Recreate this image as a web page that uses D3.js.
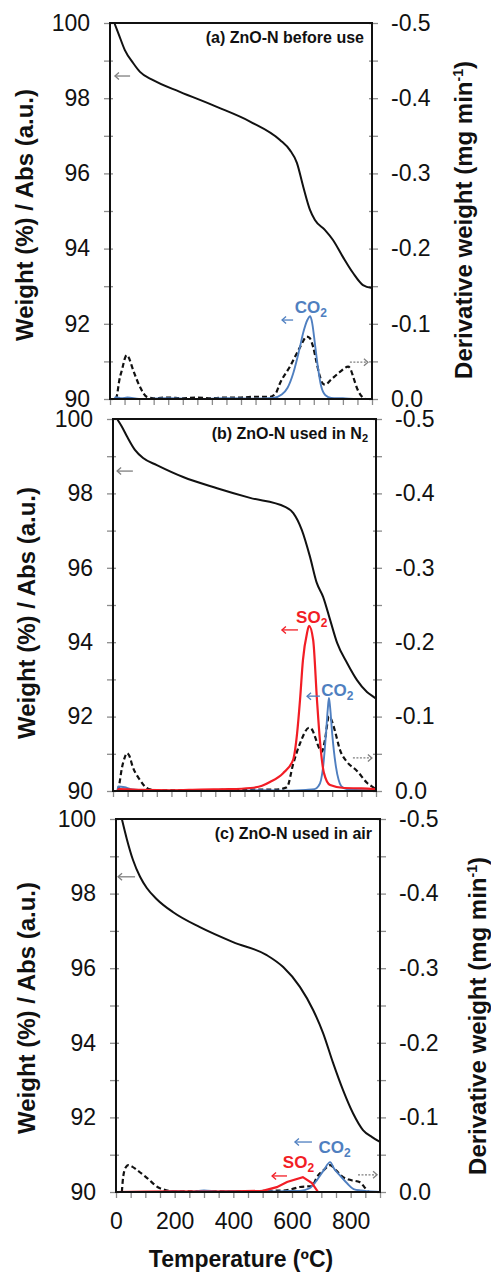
<!DOCTYPE html>
<html>
<head>
<meta charset="utf-8">
<script src="https://cdn.jsdelivr.net/npm/d3@7"></script>
<style>
html,body{margin:0;padding:0;background:#fff;}
svg{display:block;}
text{font-family:"Liberation Sans",Arial,Helvetica,sans-serif;}
</style>
</head>
<body>
<svg id="chart" width="491" height="1274"></svg>
<script>
// ---------------- DATA ----------------
const xTickLabels = [0, 200, 400, 600, 800];
const leftTickLabels = [90, 92, 94, 96, 98, 100];
const rightTickLabels = [0.0, -0.1, -0.2, -0.3, -0.4, -0.5];
const panelTitles = ["(a) ZnO-N before use", "(b) ZnO-N used in N", "(c) ZnO-N used in air"];

// Weight (%) vs temperature (°C)
const weightA = [[15,100],[30,99.7],[51,99.28],[80,98.93],[103,98.7],[148,98.48],[240,98.17],[367,97.77],[481,97.38],[584,96.89],[618,96.62],[642,96.28],[664,95.64],[687,95.03],[704,94.76],[738,94.5],[766,94.23],[800,93.78],[835,93.35],[869,93.03],[900,92.95]];
const weightB = [[14,100],[30,99.8],[48,99.53],[75,99.17],[103,98.95],[150,98.76],[240,98.44],[356,98.14],[469,97.88],[589,97.64],[617,97.47],[646,97.02],[674,96.3],[697,95.6],[719,95.22],[743,94.6],[767,93.98],[801,93.44],[835,92.98],[869,92.66],[897,92.5],[900,92.48]];
const weightC = [[20,100],[37,99.46],[58,98.9],[82,98.45],[105,98.15],[139,97.85],[195,97.5],[286,97.1],[399,96.7],[514,96.35],[570,96.03],[627,95.5],[672,94.88],[706,94.26],[740,93.46],[774,92.73],[808,92.11],[842,91.66],[873,91.47],[900,91.34]];

// CO2 absorbance (left-axis units)
const co2A = [[15,90.0],[20,90.05],[40,90.02],[60,90.04],[100,90.0],[200,90.02],[300,90.0],[400,90.02],[500,90.01],[560,90.03],[590,90.12],[610,90.3],[630,90.7],[650,91.3],[665,91.8],[678,92.1],[688,92.2],[695,92.0],[705,91.4],[715,90.8],[725,90.35],[740,90.1],[760,90.03],[800,90.02],[850,90.0],[900,90.0]];
const co2B = [[15,90.0],[18,90.12],[40,90.1],[60,90.05],[100,90.02],[200,90.0],[300,90.02],[400,90.0],[500,90.02],[600,90.01],[660,90.03],[690,90.05],[702,90.12],[712,90.3],[719,90.65],[729,91.55],[735,92.2],[739,92.5],[743,92.25],[750,91.55],[763,90.65],[772,90.3],[781,90.13],[800,90.05],[830,90.03],[900,90.02]];
const co2C = [[150,90.0],[200,90.03],[250,90.0],[300,90.04],[350,90.01],[400,90.03],[450,90.0],[500,90.03],[550,90.01],[590,90.03],[627,90.03],[660,90.1],[685,90.32],[708,90.58],[730,90.8],[744,90.62],[757,90.5],[787,90.24],[810,90.08],[835,90.04],[860,90.02],[900,90.0]];

// SO2 absorbance (left-axis units)
const so2B = [[15,90.0],[20,90.05],[100,90.03],[200,90.02],[300,90.04],[400,90.05],[470,90.08],[510,90.14],[537,90.24],[582,90.48],[616,90.83],[630,91.55],[640,92.45],[650,93.52],[664,94.25],[671,94.44],[685,94.06],[698,92.45],[708,91.37],[722,90.48],[743,90.16],[791,90.08],[850,90.07],[900,90.05]];
const so2C = [[0,90],[100,90.01],[200,90.02],[300,90.01],[400,90.02],[500,90.03],[548,90.13],[583,90.27],[637,90.4],[668,90.24],[689,90.0],[900,90.0]];

// Derivative weight (mg min-1), right axis
const derivA = [[20,0],[24,-0.005],[32,-0.025],[42,-0.04],[52,-0.055],[57,-0.0585],[63,-0.056],[80,-0.038],[103,-0.016],[126,-0.003],[150,-0.001],[200,-0.002],[250,-0.001],[300,-0.002],[350,-0.001],[400,-0.002],[450,-0.002],[500,-0.003],[550,-0.003],[570,-0.008],[584,-0.021],[618,-0.043],[653,-0.069],[676,-0.083],[686,-0.081],[698,-0.069],[710,-0.048],[721,-0.03],[730,-0.021],[739,-0.019],[760,-0.026],[790,-0.036],[818,-0.043],[826,-0.04],[835,-0.03],[850,-0.013],[866,-0.003],[880,0],[900,0]];
const derivB = [[17,0],[22,-0.01],[30,-0.03],[40,-0.045],[48,-0.051],[55,-0.048],[68,-0.032],[92,-0.015],[120,-0.003],[150,-0.001],[300,-0.001],[450,-0.002],[560,-0.002],[595,-0.005],[617,-0.037],[640,-0.064],[671,-0.085],[682,-0.082],[693,-0.071],[705,-0.058],[715,-0.053],[725,-0.068],[739,-0.1],[750,-0.093],[760,-0.08],[777,-0.055],[801,-0.039],[835,-0.027],[869,-0.011],[897,-0.003],[900,-0.002]];
const derivC = [[20,0],[23,-0.015],[28,-0.028],[35,-0.034],[42,-0.036],[55,-0.034],[70,-0.03],[105,-0.019],[150,-0.005],[200,-0.001],[400,-0.001],[570,-0.002],[600,-0.004],[627,-0.0067],[668,-0.008],[685,-0.02],[710,-0.03],[730,-0.036],[750,-0.029],[774,-0.02],[800,-0.016],[832,-0.013],[850,-0.005],[862,0],[900,0]];

// Annotation anchors in data units [T, left-axis value]
const noteA = {gray:[[69,98.59],[17,98.59]], dot:[[824,90.98],[886,90.98]], co2Arrow:[[629,92.1],[591,92.1]], co2Label:[690,92.3], so2Arrow:null, so2Label:null};
const noteB = {gray:[[68,98.6],[14,98.6]], dot:[[821,90.89],[886,90.89]], co2Arrow:[[708,92.55],[664,92.55]], co2Label:[768,92.55], so2Arrow:[[633,94.33],[578,94.33]], so2Label:[680,94.52]};
const noteC = {gray:[[65,98.45],[7,98.45]], dot:[[825,90.46],[890,90.46]], co2Arrow:[[668,91.34],[610,91.34]], co2Label:[745,91.05], so2Arrow:[[583,90.43],[532,90.43]], so2Label:[622,90.64]};

// ---------------- LAYOUT ----------------
const BLUE = "#4f7fc0", RED = "#f21d25", GRAY = "#7f7f7f";
const panels = [
  {box:{l:110,r:372,t:23,b:399}, weight:weightA, co2:co2A, so2:null, deriv:derivA, note:noteA, title:panelTitles[0], sub:null, leftTitle:{x:33,y:215}, rightTitle:{x:472,y:220}, xLabels:false, so2Linear:false},
  {box:{l:113,r:376,t:419,b:791}, weight:weightB, co2:co2B, so2:so2B, deriv:derivB, note:noteB, title:panelTitles[1], sub:"2", leftTitle:{x:35,y:613}, rightTitle:null, xLabels:false, so2Linear:false},
  {box:{l:116,r:380,t:819,b:1192}, weight:weightC, co2:co2C, so2:so2C, deriv:derivC, note:noteC, title:panelTitles[2], sub:null, leftTitle:{x:35,y:1008}, rightTitle:{x:486,y:1016}, xLabels:true, so2Linear:true}
];

const svg = d3.select("#chart");

function arrow(g, x, y, pts, color, dashed){
  const [x0,y0] = [x(pts[0][0]), y(pts[0][1])];
  const [x1,y1] = [x(pts[1][0]), y(pts[1][1])];
  const dir = Math.sign(x1 - x0);
  g.append("line").attr("x1",x0).attr("y1",y0).attr("x2",x1).attr("y2",y1)
    .attr("stroke",color).attr("stroke-width",1.3).attr("stroke-dasharray", dashed ? "2,1.5" : null);
  g.append("path").attr("d",`M${x1 - dir*4},${y1-3.5}L${x1},${y1}L${x1 - dir*4},${y1+3.5}`)
    .attr("fill","none").attr("stroke",color).attr("stroke-width",1.3);
}

function gasLabel(g, x, y, pos, base, color){
  const t = g.append("text").attr("x",x(pos[0])).attr("y",y(pos[1])).attr("text-anchor","middle")
    .attr("fill",color).attr("font-size",17).attr("font-weight","bold");
  t.append("tspan").text(base);
  t.append("tspan").attr("font-size",12).attr("dy",4).text("2");
}

panels.forEach(p => {
  const B = p.box;
  const x = d3.scaleLinear().domain([0,900]).range([B.l,B.r]);
  const y = d3.scaleLinear().domain([90,100]).range([B.b,B.t]);
  const y2 = d3.scaleLinear().domain([0,-0.5]).range([B.b,B.t]);
  const g = svg.append("g");

  // axes (ticks)
  const leftAx = d3.axisLeft(y).tickValues(d3.range(90,100.01,1)).tickSize(6).tickPadding(14)
    .tickFormat(d => leftTickLabels.includes(d) ? d : "");
  const gl = g.append("g").attr("transform",`translate(${B.l},0)`).call(leftAx);
  const rightAx = d3.axisRight(y2).tickValues(d3.range(0,11).map(i => -i*0.05)).tickSize(6).tickPadding(13)
    .tickFormat(d => rightTickLabels.some(v => Math.abs(v-d)<1e-9) ? d.toFixed(1) : "");
  const gr = g.append("g").attr("transform",`translate(${B.r},0)`).call(rightAx);
  const botAx = d3.axisBottom(x).tickValues(d3.range(0,901,50)).tickSize(6).tickPadding(15)
    .tickFormat(d => (p.xLabels && xTickLabels.includes(d)) ? d : "");
  const gb = g.append("g").attr("transform",`translate(0,${B.b})`).call(botAx);
  [gl,gr,gb].forEach(a => {
    a.select(".domain").remove();
    a.selectAll(".tick line").attr("stroke","#8c8c8c").attr("stroke-width",1.3);
    a.selectAll(".tick text").attr("font-size",23).attr("fill","#111")
      .style("font-family",'"Liberation Sans",Arial,sans-serif');
  });
  gl.selectAll(".tick line").attr("x1",3);
  gr.selectAll(".tick line").attr("x1",-3);

  // curves
  const line = (yy, lin) => d3.line().x(d => x(d[0])).y(d => yy(d[1])).curve(lin ? d3.curveLinear : d3.curveMonotoneX);
  const clipId = "clip" + B.t;
  svg.append("clipPath").attr("id",clipId).append("rect")
    .attr("x",B.l).attr("y",B.t-1).attr("width",B.r-B.l).attr("height",B.b-B.t+1);
  const cg = g.append("g").attr("clip-path",`url(#${clipId})`);
  cg.append("path").datum(p.deriv).attr("d",line(y2)).attr("fill","none")
    .attr("stroke","#111").attr("stroke-width",2.2).attr("stroke-dasharray","5,3");
  cg.append("path").datum(p.co2).attr("d",line(y)).attr("fill","none")
    .attr("stroke",BLUE).attr("stroke-width",1.9);
  if (p.so2) cg.append("path").datum(p.so2).attr("d",line(y, p.so2Linear)).attr("fill","none")
    .attr("stroke",RED).attr("stroke-width",2.2);
  cg.append("path").datum(p.weight).attr("d",line(y)).attr("fill","none")
    .attr("stroke","#111").attr("stroke-width",2);

  // frame
  g.append("rect").attr("x",B.l).attr("y",B.t).attr("width",B.r-B.l).attr("height",B.b-B.t)
    .attr("fill","none").attr("stroke","#111").attr("stroke-width",2);

  // panel title
  const pt = g.append("text").attr("x",B.r-8).attr("y",B.t+20).attr("text-anchor","end")
    .attr("font-size",16).attr("font-weight","bold").attr("fill","#111");
  pt.append("tspan").text(p.title);
  if (p.sub) pt.append("tspan").attr("font-size",11).attr("dy",3).text(p.sub);

  // annotations
  const n = p.note;
  arrow(g, x, y, n.gray, GRAY, false);
  arrow(g, x, y, n.dot, GRAY, true);
  arrow(g, x, y, n.co2Arrow, BLUE, false);
  gasLabel(g, x, y, n.co2Label, "CO", BLUE);
  if (n.so2Arrow){ arrow(g, x, y, n.so2Arrow, RED, false); gasLabel(g, x, y, n.so2Label, "SO", RED); }

  // axis titles
  g.append("text").attr("transform",`translate(${p.leftTitle.x},${p.leftTitle.y}) rotate(-90)`)
    .attr("text-anchor","middle").attr("font-size",24).attr("font-weight","bold").attr("fill","#111")
    .text("Weight (%) / Abs (a.u.)");
  if (p.rightTitle){
    const rt = g.append("text").attr("transform",`translate(${p.rightTitle.x},${p.rightTitle.y}) rotate(-90)`)
      .attr("text-anchor","middle").attr("font-size",24).attr("font-weight","bold").attr("fill","#111");
    rt.append("tspan").text("Derivative weight (mg min");
    rt.append("tspan").attr("font-size",14).attr("dy",-9).text("-1");
    rt.append("tspan").attr("dy",9).text(")");
  }
});

svg.append("text").attr("x",241).attr("y",1267).attr("text-anchor","middle")
  .attr("font-size",23).attr("font-weight","bold").attr("fill","#111").text("Temperature (ºC)");
</script>
</body>
</html>
